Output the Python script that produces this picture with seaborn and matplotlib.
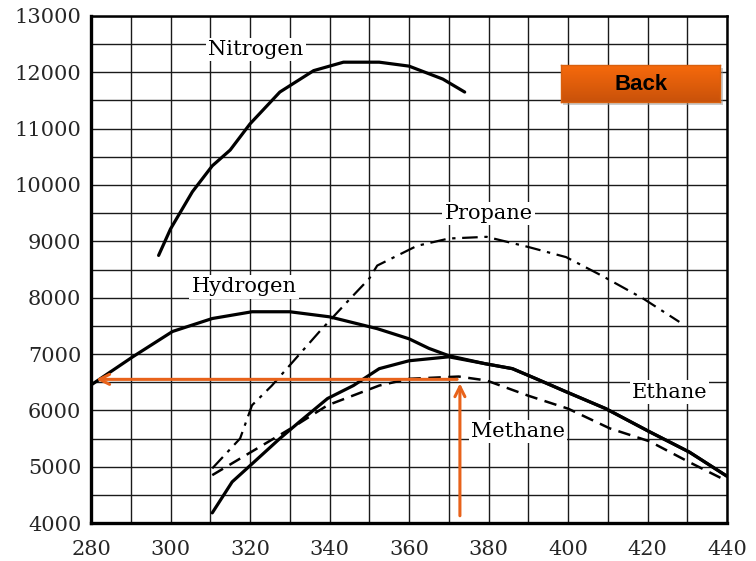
import numpy as np
import pandas as pd
import matplotlib
matplotlib.use("Agg")
import matplotlib.pyplot as plt
import seaborn as sns

# Curve data
nitrogen_x = [297, 300, 305.5, 310.5, 315, 320, 327.5, 336, 343.5, 352.5, 360, 368.5, 374]
nitrogen_y = [8750, 9220, 9880, 10340, 10620, 11085, 11650, 12030, 12180, 12180, 12110, 11880, 11650]

hydrogen_x = [280, 290.5, 300.5, 310.5, 320.5, 330, 340, 352, 360, 365, 370, 379, 386, 392, 399.5, 409.5, 420.5, 430.5, 440]
hydrogen_y = [6450, 6950, 7400, 7630, 7750, 7750, 7660, 7450, 7270, 7100, 6970, 6830, 6740, 6560, 6330, 6030, 5620, 5260, 4830]

ethane_x = [310.5, 315.5, 320.5, 327.5, 332.5, 339.5, 346, 352.5, 360, 370, 379, 386, 392, 399.5, 409.5, 420.5, 430.5, 440]
ethane_y = [4180, 4730, 5050, 5500, 5800, 6210, 6440, 6740, 6880, 6950, 6830, 6740, 6560, 6330, 6030, 5620, 5260, 4830]

methane_x = [310.5, 320.5, 331, 339.5, 352.5, 360, 372.5, 379.5, 390, 400, 410.5, 420.5, 430.5, 439, 440]
methane_y = [4850, 5270, 5710, 6090, 6440, 6560, 6600, 6530, 6260, 6030, 5680, 5450, 5080, 4780, 4750]

propane_x = [310.5, 317.5, 320.5, 325.5, 330, 337.5, 344.5, 350, 352, 362, 370, 379.5, 390, 399.5, 408.5, 419, 428]
propane_y = [4970, 5500, 6090, 6440, 6800, 7400, 7930, 8340, 8570, 8920, 9050, 9080, 8900, 8720, 8390, 7980, 7570]

x_ticks = [280, 300, 320, 340, 360, 380, 400, 420, 440]
y_ticks = [4000, 5000, 6000, 7000, 8000, 9000, 10000, 11000, 12000, 13000]

read_x = 372.8
read_y = 6550

labels = [("Nitrogen", 321.5, 12400), ("Propane", 380, 9500), ("Hydrogen", 318.5, 8190),
          ("Ethane", 425.5, 6325), ("Methane", 387.5, 5630)]

sns.set_style("white")
plt.rcParams['font.family'] = ['DejaVu Serif']

fig = plt.figure(figsize=(7.56, 5.61), dpi=100)
ax = fig.add_axes([0.1204, 0.0677, 0.8413, 0.9038])

sns.lineplot(x=nitrogen_x, y=nitrogen_y, ax=ax, color="black", lw=2.3, sort=False)
sns.lineplot(x=hydrogen_x, y=hydrogen_y, ax=ax, color="black", lw=2.3, sort=False)
sns.lineplot(x=ethane_x, y=ethane_y, ax=ax, color="black", lw=2.3, sort=False)
sns.lineplot(x=methane_x, y=methane_y, ax=ax, color="black", lw=1.8, sort=False,
             linestyle=(0, (5, 3)))
sns.lineplot(x=propane_x, y=propane_y, ax=ax, color="black", lw=1.6, sort=False,
             linestyle=(0, (7, 3, 1.5, 3)))

ax.set_xlim(280, 440)
ax.set_ylim(4000, 13000)
ax.set_xticks(x_ticks)
ax.set_yticks(y_ticks)
ax.set_xticks(np.arange(280, 441, 10), minor=True)
ax.set_yticks(np.arange(4000, 13001, 500), minor=True)
ax.grid(True, which="both", color="#1a1a1a", lw=1.0)
ax.set_axisbelow(True)
ax.tick_params(axis="both", which="major", labelsize=15, length=4, width=1.2, color="black")
ax.tick_params(axis="x", which="major", length=0, pad=12)
ax.tick_params(axis="y", which="major", direction="out", pad=3)
ax.tick_params(which="minor", length=0)
for side in ["left", "bottom"]:
    ax.spines[side].set_linewidth(2.4)
for side in ["top", "right"]:
    ax.spines[side].set_linewidth(1.8)
for s in ax.spines.values():
    s.set_color("black")
ax.set_xlabel("")
ax.set_ylabel("")

for txt, lx, ly in labels:
    ax.text(lx, ly, txt, fontsize=15, ha="center", va="center", color="black",
            bbox=dict(facecolor="white", edgecolor="none", pad=1.5), zorder=5)

# orange reading arrows
orange = "#E8621A"
ax.annotate("", xy=(280.6, read_y), xytext=(read_x, read_y),
            arrowprops=dict(arrowstyle="->", color=orange, lw=2.2, mutation_scale=18), zorder=6)
ax.annotate("", xy=(read_x, read_y - 20), xytext=(read_x, 4080),
            arrowprops=dict(arrowstyle="->", color=orange, lw=2.2, mutation_scale=18), zorder=6)

# Back button with a soft shadow
ax.set_zorder(0)
shadow = matplotlib.patches.Rectangle((0.745, 0.812), 0.211, 0.066, transform=fig.transFigure,
                                      facecolor="#999999", alpha=0.5, edgecolor="none", zorder=5)
fig.patches.append(shadow)
bax = fig.add_axes([0.742, 0.818, 0.211, 0.066])
bax.set_zorder(10)
grad = np.linspace(0, 1, 50).reshape(-1, 1)
cmap = matplotlib.colors.LinearSegmentedColormap.from_list("btn", ["#F86A0C", "#C9520A"])
bax.imshow(grad, aspect="auto", cmap=cmap, extent=[0, 1, 0, 1], origin="upper")
bax.set_xticks([])
bax.set_yticks([])
for s in bax.spines.values():
    s.set_color("#D8600E")
    s.set_linewidth(1)
bax.text(0.5, 0.48, "Back", transform=bax.transAxes, ha="center", va="center",
         fontsize=16, fontweight="bold", color="black", family="Liberation Sans")

fig.savefig("out.png", dpi=100)
